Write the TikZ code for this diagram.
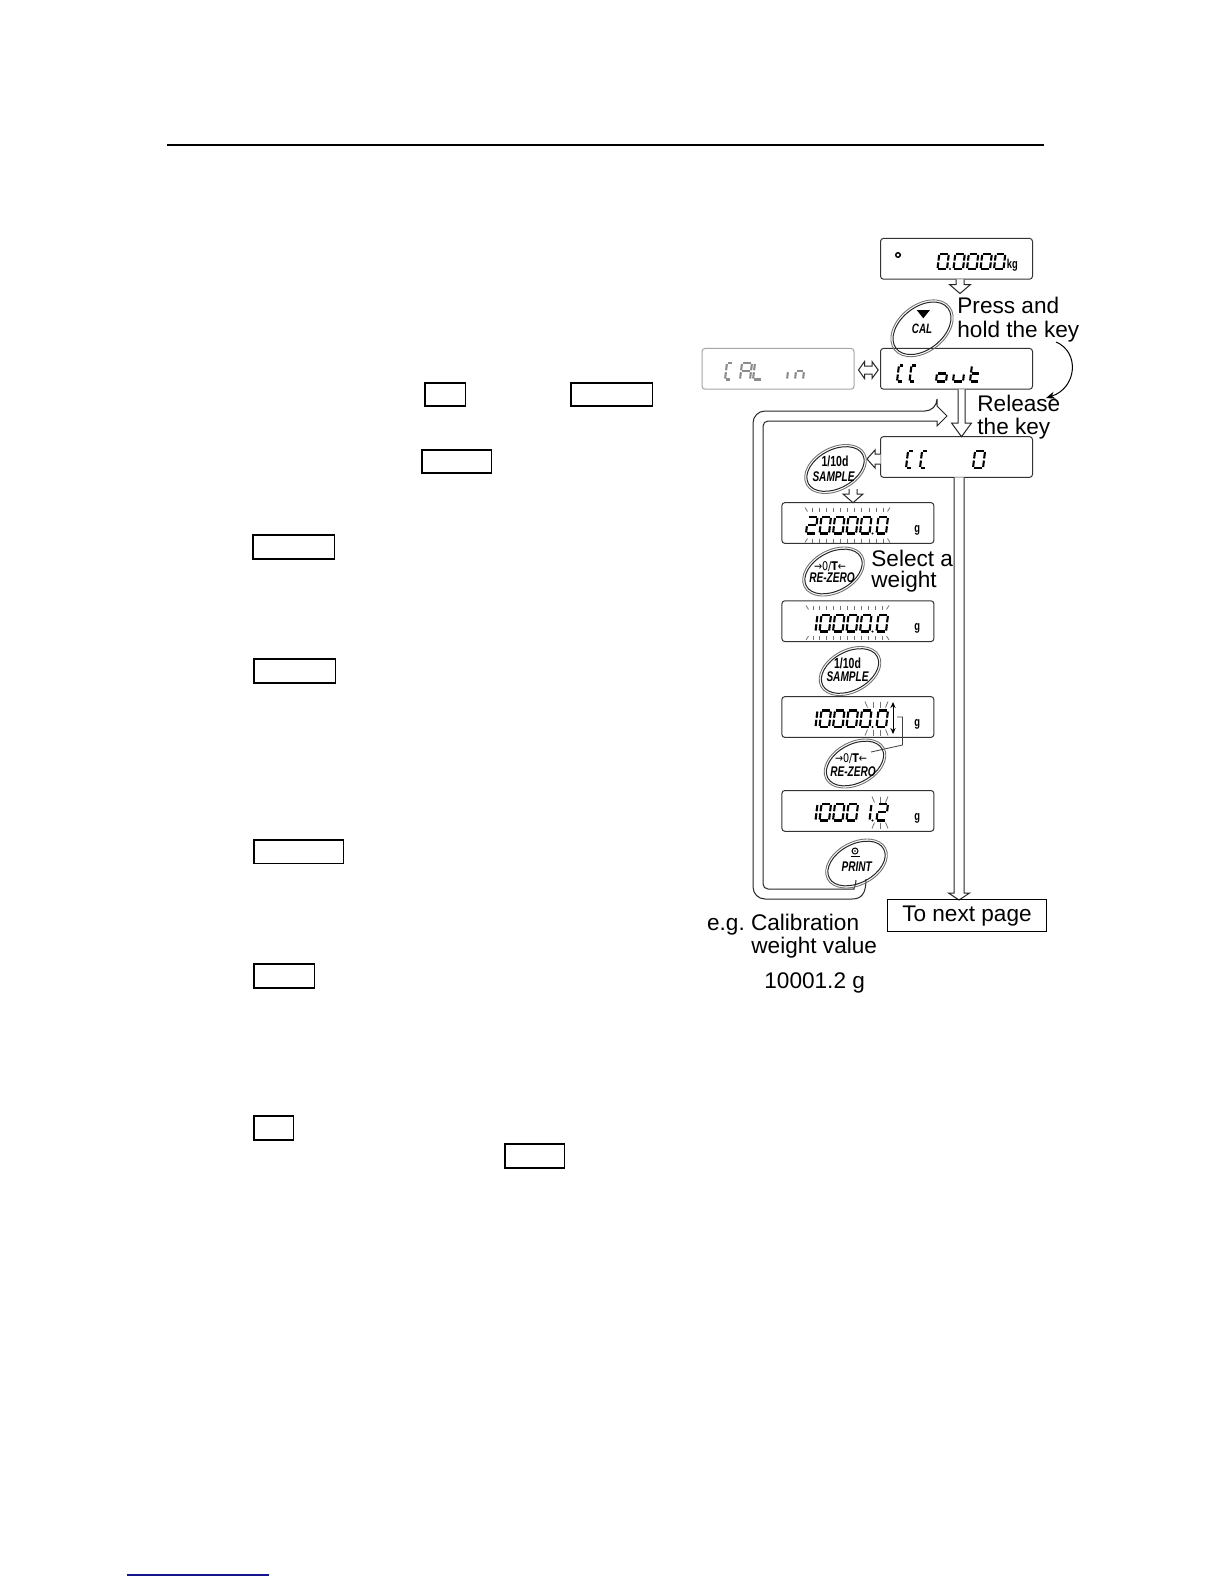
\documentclass[tikz,border=0pt]{standalone}
\usepackage{fontspec}
\setmainfont{Liberation Sans}
\newfontfamily\keyfont[FakeStretch=0.72]{Liberation Sans}
\newfontfamily\dvfont[FakeStretch=0.8]{DejaVu Sans}
\usetikzlibrary{arrows.meta}
\definecolor{navyline}{RGB}{20,20,140}
\frenchspacing
\tikzset{
 txt/.style={inner sep=0pt, anchor=base west, font=\fontsize{11.3}{13}\selectfont},
 lcdbox/.style={draw=black!80, line width=0.5pt, rounded corners=1.5pt, minimum width=76pt, minimum height=20.4pt, inner sep=0pt},
 greybox/.style={lcdbox, draw=black!35},
 blank/.style={draw, line width=0.6pt, inner sep=0pt, anchor=north west},
 hollow/.style={draw=black!85, line width=0.5pt, fill=white, line join=miter},
 keyo/.style={draw=black!55, line width=0.45pt},
 keyi/.style={draw=black!85, line width=0.5pt},
 lcdseg/.style={line width=1.05pt, line cap=butt},
 tickmark/.style={draw=black!55, line width=0.4pt},
 keylbl/.style={inner sep=0pt, font=\keyfont\bfseries\itshape\fontsize{7}{7}\selectfont},
 keynum/.style={inner sep=0pt, font=\keyfont\bfseries\fontsize{7.3}{7.3}\selectfont},
 unitlbl/.style={inner sep=0pt, anchor=base west, font=\keyfont\bfseries\fontsize{6.5}{6.5}\selectfont},
}
\pgfkeys{
 /lcd/a/.code={\draw[lcdseg] (0.1,0)--(0.9,0);},
 /lcd/b/.code={\draw[lcdseg] (1,0.06)--(1,0.44);},
 /lcd/c/.code={\draw[lcdseg] (1,0.56)--(1,0.94);},
 /lcd/d/.code={\draw[lcdseg] (0.1,1)--(0.9,1);},
 /lcd/e/.code={\draw[lcdseg] (0,0.56)--(0,0.94);},
 /lcd/f/.code={\draw[lcdseg] (0,0.06)--(0,0.44);},
 /lcd/g/.code={\draw[lcdseg] (0.1,0.5)--(0.9,0.5);},
 /lcd/h/.code={\draw[lcdseg] (0.1,0)--(0.6,0);},
 /lcd/k/.code={\draw[lcdseg] (0.1,1)--(0.6,1);},
}
% \lcdch[colour]{x}{ytop}{width}{height}{segments}
\newcommand\lcdch[6][black]{%
  \begin{scope}[shift={(#2+0.12*#5,#3)},xslant=0.12,xscale=#4,yscale=#5,color=#1]
    \pgfkeys{/lcd/.cd,#6}
  \end{scope}}
\newcommand\lcddot[2]{\fill (#1,#2) circle[radius=1.2];}
% key: x y a b a' b' rot
\newcommand\keyshape[7]{%
  \draw[keyo,rotate around={#7:(#1,#2)}] (#1,#2) ellipse [x radius=#3,y radius=#4];
  \draw[keyi,rotate around={#7:(#1,#2)}] (#1,#2) ellipse [x radius=#5,y radius=#6];}
\begin{document}
\begin{tikzpicture}[x=0.5pt,y=-0.5pt]
\useasboundingbox (0,0) rectangle (1224,1584);
\fill[white] (0,0) rectangle (1224,1584);

% rules
\draw[line width=0.7pt] (167,145) -- (1044,145);
\draw[navyline, line width=0.8pt] (127,1575) -- (269,1575);

% blank key boxes in the left column
\node[blank, minimum width=20.2pt, minimum height=11.5pt] (b1) at (424.3,382.3) {};
\node[blank, minimum width=40.7pt, minimum height=11.5pt] (b2) at (570.3,382.3) {};
\node[blank, minimum width=34.7pt, minimum height=11.5pt] (b3) at (421.3,449.3) {};
\node[blank, minimum width=40.7pt, minimum height=12pt] (b4) at (252.3,534.3) {};
\node[blank, minimum width=40.7pt, minimum height=12pt] (b5) at (253.3,658.3) {};
\node[blank, minimum width=44.7pt, minimum height=11.7pt] (b6) at (253.3,839.3) {};
\node[blank, minimum width=30.2pt, minimum height=12pt] (b7) at (253.3,963.3) {};
\node[blank, minimum width=19.7pt, minimum height=12pt] (b8) at (253.3,1115.3) {};
\node[blank, minimum width=29.7pt, minimum height=12pt] (b9) at (504.3,1143.3) {};

% display boxes
\node[lcdbox] (d1) at (956.5,258.8) {};
\node[greybox] (dcal) at (778,368.8) {};
\node[lcdbox] (dout) at (956.5,368.8) {};
\node[lcdbox] (dcc) at (956.5,457) {};
\node[lcdbox] (d2) at (857.9,523) {};
\node[lcdbox] (d3) at (857.9,621.2) {};
\node[lcdbox] (d4) at (857.9,717) {};
\node[lcdbox] (d5) at (857.9,810.9) {};

% display 1 : o 0.0000 kg
\draw[line width=0.7pt] (898,255) circle[radius=2.3];
\lcdch{937.5}{254}{9.5}{15}{a,b,c,d,e,f}
\lcddot{950}{269}
\lcdch{953.5}{254}{9.5}{15}{a,b,c,d,e,f}
\lcdch{967}{254}{9.5}{15}{a,b,c,d,e,f}
\lcdch{980.5}{254}{9.5}{15}{a,b,c,d,e,f}
\lcdch{994}{254}{9.5}{15}{a,b,c,d,e,f}
\node[unitlbl] (ukg) at (1006.5,268) {kg};

% CAL in (grey)
\lcdch[black!45]{725}{363}{8}{16.5}{h,k,e,f}
\lcdch[black!45]{740}{363}{10}{16.5}{a,b,c,e,f,g}
\lcdch[black!45]{753}{363}{9}{16.5}{d,e,f}
\lcdch[black!45]{787}{363}{3}{16.5}{e}
\lcdch[black!45]{795}{363}{8}{16.5}{c,e,g}

% CC out
\lcdch{897}{365.5}{7.5}{16}{h,k,e,f}
\lcdch{909.5}{365.5}{7.5}{16}{h,k,e,f}
\lcdch{936}{365.5}{10}{16}{c,d,e,g}
\lcdch{953}{365.5}{10}{16}{c,d,e}
\lcdch{970}{365.5}{9}{16}{d,e,f,g}

% CC 0
\lcdch{906}{451}{8}{17}{h,k,e,f}
\lcdch{920}{451}{8}{17}{h,k,e,f}
\lcdch{973}{451}{10}{17}{a,b,c,d,e,f}

% 20000.0 g
\lcdch{806}{517}{9.5}{16.5}{a,b,g,e,d}
\foreach \xx in {819.5,833,846.5,860,876.5} {\lcdch{\xx}{517}{9.5}{16.5}{a,b,c,d,e,f}}
\lcddot{872.5}{533.5}
\node[unitlbl] (ug2) at (914,532) {g};
\draw[tickmark] (805,507.5) -- (807.5,511.5);
\foreach \i in {1,...,11} {\draw[tickmark] ({805+7.1*\i},507.5) -- ++(0,4);}
\draw[tickmark] (890,507.5) -- (887.5,511.5);
\draw[tickmark] (807.5,538.5) -- (805,542.5);
\foreach \i in {1,...,11} {\draw[tickmark] ({805+7.1*\i},538.5) -- ++(0,4);}
\draw[tickmark] (887.5,538.5) -- (890,542.5);

% 10000.0 g
\lcdch{806}{615}{9.5}{16.5}{b,c}
\foreach \xx in {819.5,833,846.5,860,876.5} {\lcdch{\xx}{615}{9.5}{16.5}{a,b,c,d,e,f}}
\lcddot{872.5}{631.5}
\node[unitlbl] (ug3) at (914,630) {g};
\draw[tickmark] (806,605.5) -- (808.5,609.5);
\foreach \i in {1,...,11} {\draw[tickmark] ({806+6.9*\i},605.5) -- ++(0,4);}
\draw[tickmark] (889,605.5) -- (886.5,609.5);
\draw[tickmark] (808.5,636) -- (806,640);
\foreach \i in {1,...,11} {\draw[tickmark] ({806+6.9*\i},636) -- ++(0,4);}
\draw[tickmark] (886.5,636) -- (889,640);

% 10000.0 with up/down arrow
\lcdch{806}{710.5}{9.5}{16.5}{b,c}
\foreach \xx in {819.5,833,846.5,860,876.5} {\lcdch{\xx}{710.5}{9.5}{16.5}{a,b,c,d,e,f}}
\lcddot{872.5}{727}
\node[unitlbl] (ug4) at (914,726) {g};
\draw[tickmark] (865,701.5) -- (867.5,707.5);
\draw[tickmark] (873,701.5) -- (873,707.5);
\draw[tickmark] (880,701.5) -- (880,707.5);
\draw[tickmark] (888,701.5) -- (885.5,707.5);
\draw[tickmark] (867.5,729.5) -- (865,735.5);
\draw[tickmark] (873,729.5) -- (873,735.5);
\draw[tickmark] (880,729.5) -- (880,735.5);
\draw[tickmark] (885.5,729.5) -- (888,735.5);
\coordinate (ud1) at (893,702);
\coordinate (ud2) at (893,734);
\draw[{Stealth[length=3pt,width=2.6pt]}-{Stealth[length=3pt,width=2.6pt]}, line width=0.5pt] (ud1) -- (ud2);
\coordinate (br1) at (897,717);
\coordinate (br2) at (871,752);
\draw[line width=0.4pt, black!75] (br1) -- (902.5,717) -- (902.5,745) -- (br2);

% 10001.2 g
\lcdch{806}{804}{9.5}{16.5}{b,c}
\foreach \xx in {819.5,833,846.5} {\lcdch{\xx}{804}{9.5}{16.5}{a,b,c,d,e,f}}
\lcdch{860}{804}{9.5}{16.5}{b,c}
\lcddot{872.5}{820.5}
\lcdch{876.5}{804}{9.5}{16.5}{a,b,g,e,d}
\node[unitlbl] (ug5) at (914,820) {g};
\draw[tickmark] (872,796.5) -- (874.5,802.5);
\draw[tickmark] (880,796.5) -- (880,802.5);
\draw[tickmark] (888,796.5) -- (885.5,802.5);
\draw[tickmark] (874.5,822.5) -- (872,828.5);
\draw[tickmark] (880,822.5) -- (880,828.5);
\draw[tickmark] (885.5,822.5) -- (888,828.5);

% hollow arrows
\draw[hollow] (956,279.3) -- (956,284.5) -- (949.5,284.5) -- (960,293.5) -- (970.5,284.5) -- (964,284.5) -- (964,279.3);
\draw[hollow] (858.5,370) -- (864.5,361.5) -- (864.5,366) -- (872,366) -- (872,361.5) -- (878.2,370) -- (872,378.5) -- (872,374) -- (864.5,374) -- (864.5,378.5) -- cycle;
\draw[hollow] (958,389.3) -- (958,423) -- (951.5,423) -- (961.5,436.7) -- (971.5,423) -- (965,423) -- (965,389.3);
\draw[hollow] (880.7,454) -- (875,454) -- (875,450) -- (867,459) -- (875,468) -- (875,464) -- (880.7,464);
\draw[hollow] (849,489) -- (849,494) -- (843,494) -- (853,502.7) -- (863,494) -- (857,494) -- (857,489);
\draw[hollow] (954,477.3) -- (954,893) -- (948.5,893) -- (959,900) -- (969.5,893) -- (964,893) -- (964,477.3);

% return loop
\draw[hollow, fill=none] (866,879) .. controls (866,893) and (862,899) .. (852,899)
  [rounded corners=6pt] -- (753,899) -- (753,411) -- (937,411) [sharp corners] -- (937,406) -- (947,416) -- (937,426) -- (937,421)
  [rounded corners=2.5pt] -- (763,421) -- (763,889) -- (849,889) [sharp corners] .. controls (853,889) and (856,886) .. (856,880);

% keys
\keyshape{922}{328.3}{35}{23.5}{32.8}{21.3}{38}
\fill (916.7,310) -- (930,310) -- (923.3,318.3) -- cycle;
\node[keylbl, font=\keyfont\bfseries\itshape\fontsize{6.8}{6.8}\selectfont] (kcal) at (922,329) {CAL};

\keyshape{835.5}{469}{33}{21.5}{30.8}{19.3}{28}
\node[keynum] (ks1a) at (835,461.5) {1/10d};
\node[keylbl] (ks1b) at (833.5,477) {SAMPLE};

\keyshape{833.5}{571.5}{33}{21.5}{30.8}{19.3}{28}
\node[inner sep=0pt, font=\dvfont\fontsize{6}{6}\selectfont] (kr1a) at (830,566.5) {→0/\textbf{T}←};
\node[keylbl] (kr1b) at (832,577.3) {RE-ZERO};

\keyshape{850}{671}{33}{21.5}{30.8}{19.3}{28}
\node[keynum] (ks2a) at (847.5,663.5) {1/10d};
\node[keylbl] (ks2b) at (847.5,677) {SAMPLE};

\keyshape{855}{763.5}{33}{21.5}{30.8}{19.3}{28}
\node[inner sep=0pt, font=\dvfont\fontsize{6}{6}\selectfont] (kr2a) at (851,759) {→0/\textbf{T}←};
\node[keylbl] (kr2b) at (853,771.5) {RE-ZERO};

\keyshape{856.5}{863.5}{33}{21.5}{30.8}{19.3}{28}
\draw[line width=0.5pt] (855,851) circle[radius=3];
\fill (855,851) circle[radius=0.8];
\draw[line width=0.6pt] (850.5,856.5) -- (859.5,856.5);
\node[keylbl] (kp) at (856.7,866.7) {PRINT};

% curved arrow
\coordinate (ca1) at (1056,342);
\coordinate (ca2) at (1046,398);
\draw[-{Stealth[length=4.5pt,width=3.6pt]}, line width=0.5pt] (ca1) .. controls (1080,352) and (1077,388) .. (ca2);

% texts
\node[txt] (t1) at (957,313) {Press and};
\node[txt] (t2) at (957,337) {hold the key};
\node[txt] (t3) at (977,411.5) {Release};
\node[txt] (t4) at (977,434) {the key};
\node[txt] (t5) at (871,566) {Select a};
\node[txt] (t6) at (871,587.5) {weight};
\node[txt] (t7) at (706.7,930.5) {e.g. Calibration};
\node[txt] (t8) at (751,953.3) {weight value};
\node[txt] (t9) at (764,988) {10001.2 g};
\node[draw, line width=0.5pt, inner sep=0pt, minimum width=79.7pt, minimum height=15.85pt, font=\fontsize{11.3}{13}\selectfont] (next) at (967,915.8) {To next page};
\end{tikzpicture}
\end{document}
